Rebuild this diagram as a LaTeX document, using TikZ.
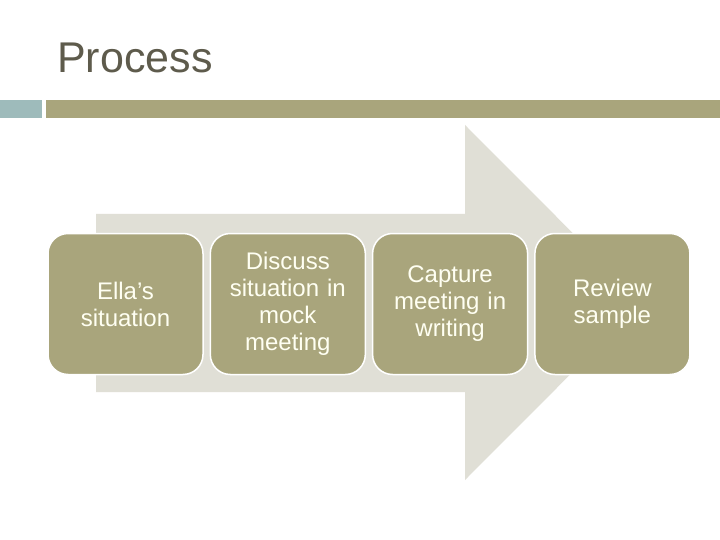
\documentclass[tikz,border=0pt]{standalone}
\usepackage{fontspec}
\setmainfont{Liberation Sans}
\usetikzlibrary{positioning}
\definecolor{olivebox}{RGB}{169, 165, 124}
\definecolor{arrowgray}{RGB}{224, 223, 214}
\definecolor{tealgray}{RGB}{158, 187, 187}
\definecolor{titledark}{RGB}{94, 91, 76}
\definecolor{steptext}{RGB}{255, 255, 242}

\begin{document}
\begin{tikzpicture}[x=1pt, y=-1pt,
    stepbox/.style={draw=white, line width=1.5pt, fill=olivebox,
      rounded corners=20pt, minimum width=155pt, minimum height=141pt,
      text width=140pt, align=center, inner sep=0pt, text=steptext,
      font=\fontsize{24}{27}\selectfont},
    node distance=5.8pt]
    \useasboundingbox (0,0) rectangle (720,540);
    \fill[white] (0,0) rectangle (720,540);

    % Title
    \node[anchor=base west, inner sep=0pt, text=titledark,
          font=\fontsize{43}{50}\selectfont] (title) at (57,73) {Process};

    % Rule under title
    \fill[tealgray] (0,100) rectangle (42,118);
    \fill[olivebox] (46,100) rectangle (720,118);

    % Big arrow
    \fill[arrowgray] (96,214) -- (465,214) -- (465,125) -- (642,302.5)
      -- (465,480) -- (465,392) -- (96,392) -- cycle;

    % Steps
    \node[stepbox] (ella) at (125.5,304) {Ella’s\\situation};
    \node[stepbox, right=of ella] (discuss)
      {Discuss\\situation in\\mock\\meeting};
    \node[stepbox, right=of discuss] (capture)
      {Capture\\meeting in\\writing};
    \node[stepbox, right=of capture] (review) {Review\\sample};
  \end{tikzpicture}
\end{document}
